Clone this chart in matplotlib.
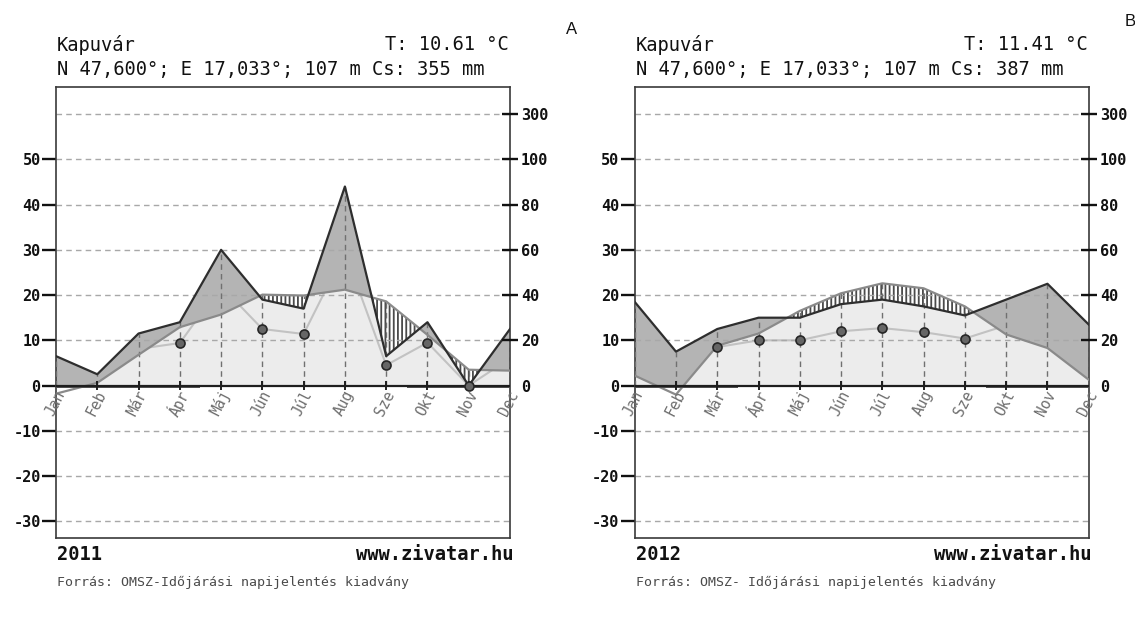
import numpy as np
import matplotlib
matplotlib.use("Agg")
import matplotlib.pyplot as plt

# ---- data -----------------------------------------------------------------
months = ['Jan', 'Feb', 'Már', 'Ápr', 'Máj', 'Jún', 'Júl', 'Aug', 'Sze', 'Okt', 'Nov', 'Dec']

# monthly mean temperature (°C)
temp_2011 = [-1.8, 0.6, 6.8, 12.9, 15.7, 20.1, 19.9, 21.2, 18.6, 11.2, 3.5, 3.3]
temp_2012 = [2.2, -2.0, 8.8, 11.5, 16.5, 20.4, 22.6, 21.5, 17.5, 11.3, 8.3, 1.3]

# monthly precipitation (mm)
prec_2011 = [13, 5, 23, 28, 60, 38, 34, 88, 13, 28, 0, 25]
prec_2012 = [37, 15, 25, 30, 30, 36, 38, 35, 31, 38, 45, 27]

# secondary temperature series (°C), marked with dots
aux_2011 = [2.0, 1.5, 8.1, 9.4, 22.0, 12.5, 11.4, 29.6, 4.5, 9.5, 0.0, 6.0]
aux_2012 = [4.0, 3.0, 8.5, 10.0, 10.0, 12.0, 12.7, 11.8, 10.4, 13.3, 11.0, 5.0]

# frost periods, in month positions (Jan = 0)
frost_2011 = [(0, 3.5), (8.5, 11)]
frost_2012 = [(0, 2.5), (8.5, 11)]

station = 'Kapuvár'
coords = 'N 47,600°; E 17,033°; 107 m'
mean_t = {'2011': '10.61', '2012': '11.41'}
total_p = {'2011': '355', '2012': '387'}
sources = {'2011': 'Forrás: OMSZ-Időjárási napijelentés kiadvány',
           '2012': 'Forrás: OMSZ- Időjárási napijelentés kiadvány'}

left_ticks = [50, 40, 30, 20, 10, 0, -10, -20, -30]
right_ticks = [60, 50, 40, 30, 20, 10, 0]
right_labels = ['300', '100', '80', '60', '40', '20', '0']

# ---- styling --------------------------------------------------------------
W, H = 1135, 617
MONO = 'DejaVu Sans Mono'
plt.rcParams['hatch.linewidth'] = 1.3

C_LIGHT = '#ececec'
C_DARK = '#b4b4b4'
C_TEMP = '#8a8a8a'
C_PREC = '#2e2e2e'
C_AUX = '#c2c2c2'
C_GRID = '#a8a8a8'

fig = plt.figure(figsize=(W / 100, H / 100), dpi=100)
fig.patch.set_facecolor('white')


def px(x, y):
    return x / W, 1 - y / H


def prec_scale(p):
    p = np.asarray(p, dtype=float)
    return np.where(p <= 100, p / 2.0, 50 + (p - 100) / 20.0)


def draw_panel(x0, year, temp, prec, aux, frost):
    x1 = x0 + 454
    top, bot = 87, 538
    ax = fig.add_axes([x0 / W, 1 - bot / H, (x1 - x0) / W, (bot - top) / H])
    ax.set_xlim(0, 11)
    ax.set_ylim(-33.7, 66)
    ax.set_facecolor('white')

    xm = np.arange(12)
    t = np.asarray(temp, dtype=float)
    p = prec_scale(prec)
    a = np.asarray(aux, dtype=float)

    xd = np.linspace(0, 11, 4401)
    td = np.interp(xd, xm, t)
    pd_ = np.interp(xd, xm, p)

    # area under the lower of the two curves
    ax.fill_between(xd, 0, np.clip(np.minimum(td, pd_), 0, None),
                    color=C_LIGHT, lw=0, zorder=1)
    # secondary series line
    ax.plot(xm, a, color=C_AUX, lw=1.5, zorder=1.5)
    # humid period
    ax.fill_between(xd, np.maximum(td, 0), pd_, where=pd_ > td,
                    interpolate=True, color=C_DARK, lw=0, zorder=2)
    # arid period
    ax.fill_between(xd, np.maximum(pd_, 0), td, where=td > pd_,
                    interpolate=True, facecolor='white', edgecolor='#4a4a4a',
                    hatch='||||', lw=0, zorder=2)

    # horizontal grid
    for g in [60, 50, 40, 30, 20, 10, -10, -20, -30]:
        ax.axhline(g, color=C_GRID, lw=1.0, ls=(0, (4, 3)), zorder=2.5)
    # month guides up to the envelope
    for m in xm:
        ax.vlines(m, 0, max(t[m], p[m], 0), colors='#707070', lw=1.0,
                  linestyles=(0, (4, 3)), zorder=2.6)

    ax.plot(xm, t, color=C_TEMP, lw=1.6, zorder=3)
    ax.plot(xm, p, color=C_PREC, lw=1.6, zorder=3.2)

    # zero line, frost bars and month ticks
    ax.axhline(0, color='#1e1e1e', lw=1.6, zorder=4)
    for (s, e) in frost:
        ax.broken_barh([(s, e - s)], (-0.65, 0.65), facecolors='#555555',
                       zorder=3.9)
    ax.vlines(xm[1:-1], -0.95, 0.95, colors='#1e1e1e', lw=1.4, zorder=4)

    # dots that lie inside the lower area
    vis = a <= np.maximum(np.minimum(t, p), 0) + 1e-9
    ax.plot(xm[vis], a[vis], 'o', ms=6.5, mfc='#666666', mec='#262626',
            mew=1.2, zorder=4.5, ls='none')

    # month labels
    for m, name in enumerate(months):
        ax.text(m + 0.12, -1.3, name, rotation=63, rotation_mode='anchor',
                ha='right', va='center', color='#6e6e6e', fontsize=10.5,
                family=MONO, zorder=5)

    # frame
    for s in ax.spines.values():
        s.set_color('#3a3a3a')
        s.set_linewidth(1.2)
    ax.set_xticks([])

    # left axis: temperature
    ax.set_yticks(left_ticks)
    ax.set_yticklabels([str(v) for v in left_ticks], family=MONO,
                       fontweight='bold', fontsize=11, color='#111111')
    ax.tick_params(axis='y', direction='out', length=10, width=1.7,
                   color='#111111', pad=1)
    for tk, v in zip(ax.yaxis.get_major_ticks(), left_ticks):
        if v == 0:
            tk.tick1line.set_visible(False)

    # right axis: precipitation
    axr = ax.twinx()
    axr.set_ylim(ax.get_ylim())
    axr.set_yticks(right_ticks)
    axr.set_yticklabels(right_labels, family=MONO, fontweight='bold',
                        fontsize=11, color='#111111')
    axr.tick_params(axis='y', direction='inout', length=12, width=1.7,
                    color='#111111', pad=2)
    for tk, v in zip(axr.yaxis.get_major_ticks(), right_ticks):
        if v == 0:
            tk.tick2line.set_visible(False)
    for s in axr.spines.values():
        s.set_visible(False)

    # header and footer
    fig.text(*px(x0 + 1, 45), station, family=MONO, fontsize=13.5,
             ha='left', va='center', color='#111111')
    fig.text(*px(x1 - 1, 45), f'T: {mean_t[year]} °C', family=MONO,
             fontsize=13.5, ha='right', va='center', color='#111111')
    fig.text(*px(x0 + 1, 70), f'{coords} Cs: {total_p[year]} mm',
             family=MONO, fontsize=13.5, ha='left', va='center',
             color='#111111')
    fig.text(*px(x0 + 1, 555), year, family=MONO, fontsize=13.5,
             fontweight='bold', ha='left', va='center', color='#111111')
    fig.text(*px(x1 + 3, 555), 'www.zivatar.hu', family=MONO,
             fontsize=13.5, fontweight='bold', ha='right', va='center',
             color='#111111')
    fig.text(*px(x0 + 1, 582), sources[year], family=MONO, fontsize=9.5,
             ha='left', va='center', color='#4a4a4a')


draw_panel(56, '2011', temp_2011, prec_2011, aux_2011, frost_2011)
draw_panel(634.7, '2012', temp_2012, prec_2012, aux_2012, frost_2012)

fig.text(*px(566, 30), 'A', family='Liberation Sans', fontsize=12,
         ha='left', va='center', color='#111111')
fig.text(*px(1125, 22), 'B', family='Liberation Sans', fontsize=12,
         ha='left', va='center', color='#111111')

fig.savefig('out.png', dpi=100, facecolor='white')
